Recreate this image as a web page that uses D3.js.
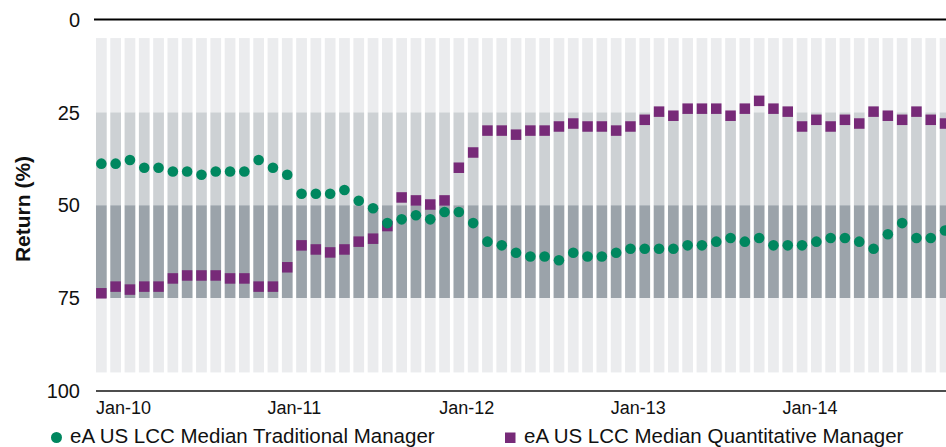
<head>
	<meta charset="utf-8">
	<title>Return percentile ranks</title>
	<script src="https://d3js.org/d3.v7.min.js"></script>
	<style>
		body { margin: 0; background: #fff; }
		text { font-family: "Liberation Sans", Arial, sans-serif; fill: #111; }
	</style>
</head>
<body>
	<script type="text/javascript">
	// months Jan-10 .. Dec-14
	var years = ['10', '11', '12', '13', '14'];
	var monthNames = ['Jan','Feb','Mar','Apr','May','Jun','Jul','Aug','Sep','Oct','Nov','Dec'];
	var months = [];
	years.forEach(function(y){
		monthNames.forEach(function(m){
			months.push(m + '-' + y);
		});
	});

	var traditional = [38.8, 38.8, 37.8, 39.9, 39.9, 40.9, 40.9, 41.8, 40.9, 40.9, 40.9, 37.8,
		39.9, 41.8, 46.9, 46.9, 46.9, 45.9, 48.8, 50.8, 54.8, 53.8, 52.7, 53.8,
		51.8, 51.8, 54.8, 59.8, 60.8, 62.8, 63.8, 63.8, 64.8, 62.8, 63.8, 63.8,
		62.8, 61.7, 61.7, 61.7, 61.7, 60.8, 60.8, 59.8, 58.8, 59.8, 58.8, 60.8,
		60.8, 60.8, 59.8, 58.8, 58.8, 59.8, 61.7, 57.8, 54.8, 58.8, 58.8, 56.8];

	var quantitative = [73.7, 71.9, 72.7, 71.9, 71.9, 69.7, 68.9, 68.9, 68.9, 69.7, 69.7, 71.9,
		71.9, 66.7, 60.8, 61.9, 62.7, 61.9, 59.8, 59.0, 55.6, 47.9, 48.7, 49.8,
		48.7, 39.9, 35.8, 29.9, 29.9, 31.0, 29.9, 29.9, 28.8, 28.0, 28.8, 28.8,
		29.9, 28.8, 27.0, 24.8, 25.9, 24.0, 24.0, 24.0, 25.9, 24.0, 21.9, 24.0,
		24.8, 28.8, 27.0, 28.8, 27.0, 28.0, 24.8, 25.9, 27.0, 24.8, 27.0, 28.0];

	// percentile bands: 5th-25th, 25th-median, median-75th, 75th-95th
	var bandEdges = [5, 25, 50, 75, 95];
	var bandColors = ['#ebecee', '#cdd1d4', '#9ba3aa', '#ebecee'];
	var yTicks = [0, 25, 50, 75, 100];
	var seriesNames = ['eA US LCC Median Traditional Manager', 'eA US LCC Median Quantitative Manager'];

	var w = 946;
	var h = 447;
	var green = '#00875f';
	var purple = '#772a78';

	var svg = d3.select("body")
		.append("svg")
		.attr("width", w)
		.attr("height", h);

	var x = d3.scaleBand()
		.domain(months)
		.range([94.2, 952.2])
		.paddingInner(0.25)
		.paddingOuter(0.125);

	var y = d3.scaleLinear()
		.domain([0, 100])
		.range([19.5, 391]);

	// stacked band rects per month
	var bands = [];
	months.forEach(function(m){
		for (var i = 0; i < bandColors.length; i++) {
			bands.push({ month: m, lo: bandEdges[i], hi: bandEdges[i + 1], color: bandColors[i] });
		}
	});

	svg.selectAll("rect.band")
		.data(bands)
		.enter()
		.append("rect")
		.attr("class", "band")
		.attr("x", function(d){ return x(d.month); })
		.attr("y", function(d){ return y(d.lo); })
		.attr("width", x.bandwidth())
		.attr("height", function(d){ return y(d.hi) - y(d.lo); })
		.attr("fill", function(d){ return d.color; });

	// axis lines
	svg.append("line")
		.attr("x1", 94).attr("x2", w)
		.attr("y1", y(0)).attr("y2", y(0))
		.attr("stroke", "#000")
		.attr("stroke-width", 2);

	svg.append("line")
		.attr("x1", 96).attr("x2", w)
		.attr("y1", y(100)).attr("y2", y(100))
		.attr("stroke", "#4d4d4d")
		.attr("stroke-width", 2);

	// y tick labels
	svg.selectAll("text.ytick")
		.data(yTicks)
		.enter()
		.append("text")
		.attr("class", "ytick")
		.text(function(d){ return d; })
		.attr("text-anchor", "end")
		.attr("x", 80)
		.attr("y", function(d){ return y(d); })
		.attr("dy", "0.36em")
		.attr("font-size", "20px");

	svg.append("text")
		.text("Return (%)")
		.attr("transform", "translate(30,209) rotate(-90)")
		.attr("text-anchor", "middle")
		.attr("font-size", "21px")
		.attr("font-weight", "bold");

	// x tick labels at each January
	svg.selectAll("text.xtick")
		.data(months.filter(function(m){ return m.indexOf('Jan') === 0; }))
		.enter()
		.append("text")
		.attr("class", "xtick")
		.text(function(d){ return d; })
		.attr("x", function(d){ return x(d); })
		.attr("y", 414)
		.attr("font-size", "18px");

	// quantitative squares (drawn first, traditional dots sit on top)
	var sq = 10.5;
	svg.selectAll("rect.quant")
		.data(quantitative)
		.enter()
		.append("rect")
		.attr("class", "quant")
		.attr("x", function(d, i){ return x(months[i]) + x.bandwidth() / 2 - sq / 2; })
		.attr("y", function(d){ return y(d) - sq / 2; })
		.attr("width", sq)
		.attr("height", sq)
		.attr("fill", purple);

	svg.selectAll("circle.trad")
		.data(traditional)
		.enter()
		.append("circle")
		.attr("class", "trad")
		.attr("cx", function(d, i){ return x(months[i]) + x.bandwidth() / 2; })
		.attr("cy", function(d){ return y(d); })
		.attr("r", 5.3)
		.attr("fill", green);

	// legend
	svg.append("circle")
		.attr("cx", 56.5)
		.attr("cy", 437.5)
		.attr("r", 5.5)
		.attr("fill", green);
	svg.append("text")
		.text(seriesNames[0])
		.attr("x", 70)
		.attr("y", 443)
		.attr("font-size", "20.5px");

	svg.append("rect")
		.attr("x", 505)
		.attr("y", 432.5)
		.attr("width", 10.5)
		.attr("height", 10.5)
		.attr("fill", purple);
	svg.append("text")
		.text(seriesNames[1])
		.attr("x", 524)
		.attr("y", 443)
		.attr("font-size", "20.5px");
	</script>
</body>
